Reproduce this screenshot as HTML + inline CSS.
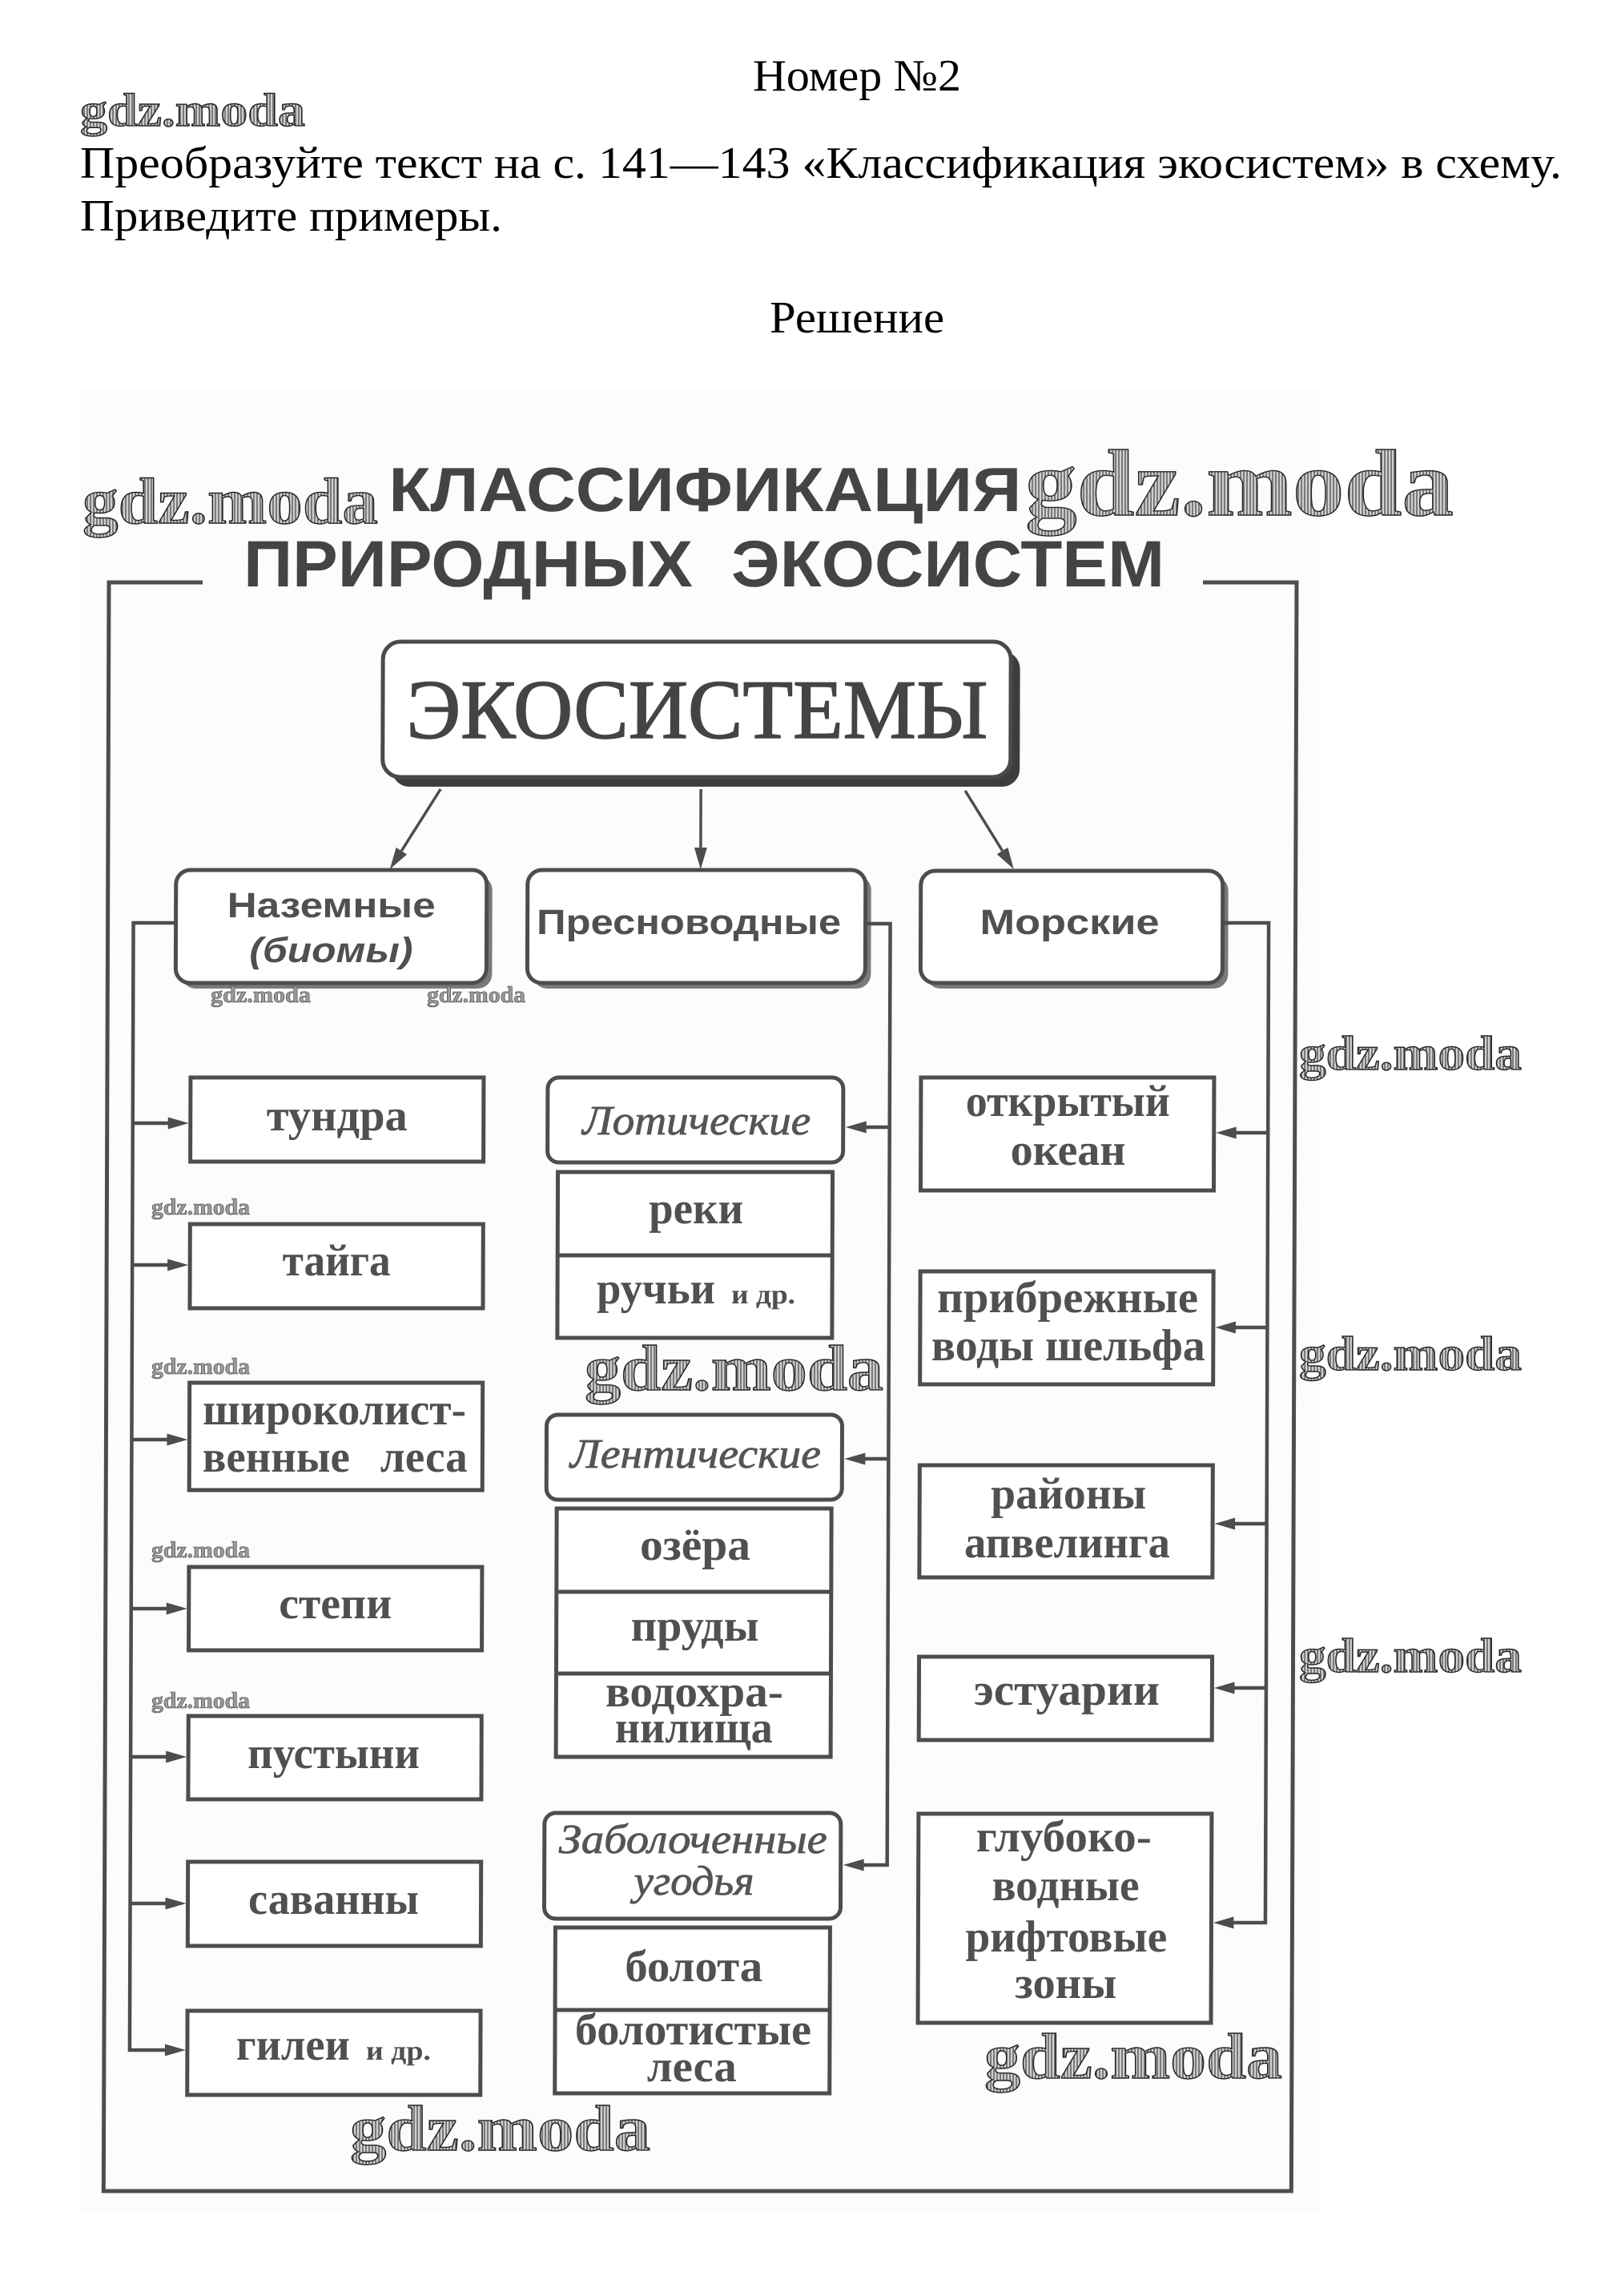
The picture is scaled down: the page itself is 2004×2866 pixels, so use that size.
<!DOCTYPE html>
<html><head><meta charset="utf-8"><style>
html,body{margin:0;padding:0;background:#fff;}
svg{display:block;}
.hd{font-family:"Liberation Serif",serif;font-size:56px;fill:#000;}
.wm{font-family:"Liberation Serif",serif;font-weight:bold;fill:url(#hatch);stroke:#262626;stroke-width:1.4;}
.wt{font-family:"Liberation Serif",serif;font-weight:bold;font-size:28px;fill:#9a9a9a;stroke:#444;stroke-width:0.6;}
.tt{font-family:"Liberation Sans",sans-serif;font-weight:bold;fill:#444;}
.l2{font-family:"Liberation Sans",sans-serif;font-weight:bold;font-size:44px;fill:#505050;}
.bx{font-family:"Liberation Serif",serif;font-weight:bold;font-size:56px;fill:#505050;}
.sm{font-family:"Liberation Serif",serif;font-weight:bold;font-size:34px;fill:#505050;}
.it{font-family:"Liberation Serif",serif;font-style:italic;font-size:52px;fill:#555;stroke:#555;stroke-width:0.8;}
.ln{fill:none;stroke:#4d4d4d;stroke-width:4.5;}
.bxr{fill:#fff;stroke:#4d4d4d;stroke-width:5;}
.ah{fill:#4d4d4d;}
</style></head><body>
<svg width="2004" height="2866" viewBox="0 0 2004 2866" xmlns="http://www.w3.org/2000/svg">
<defs>
<pattern id="hatch" width="4" height="4" patternUnits="userSpaceOnUse">
<rect width="4" height="4" fill="#cfcfcf"/><path d="M1 0V4" stroke="#555" stroke-width="1.4"/>
</pattern>
</defs>
<rect width="2004" height="2866" fill="#fff"/>
<rect x="100" y="487" width="1550" height="2273" fill="#fcfcfc"/>

<!-- header -->
<text class="hd" x="940" y="113" textLength="260" lengthAdjust="spacingAndGlyphs">Номер №2</text>
<text class="hd" x="100" y="222" textLength="1850" lengthAdjust="spacingAndGlyphs">Преобразуйте текст на с. 141—143 «Классификация экосистем» в схему.</text>
<text class="hd" x="100" y="288" textLength="527" lengthAdjust="spacingAndGlyphs">Приведите примеры.</text>
<text class="hd" x="961" y="415" textLength="218" lengthAdjust="spacingAndGlyphs">Решение</text>

<g transform="translate(2.4,0) skewX(-0.19)">
<!-- title -->
<text class="tt" x="485" y="638" font-size="78" textLength="790" lengthAdjust="spacingAndGlyphs">КЛАССИФИКАЦИЯ</text>
<text class="tt" x="304" y="732" font-size="82" textLength="561" lengthAdjust="spacingAndGlyphs">ПРИРОДНЫХ</text>
<text class="tt" x="913" y="732" font-size="82" textLength="541" lengthAdjust="spacingAndGlyphs">ЭКОСИСТЕМ</text>

<!-- frame -->
<path d="M253 727H136V2735H1619V727H1502" fill="none" stroke="#4d4d4d" stroke-width="5"/>

<!-- root box -->
<rect x="490" y="813" width="784" height="169" rx="22" fill="#3d3d3d"/>
<rect x="478.5" y="801" width="784" height="169" rx="22" fill="#fff" stroke="#4a4a4a" stroke-width="5"/>
<text x="508" y="921" font-family="Liberation Serif, serif" font-size="105" fill="#444" stroke="#444" stroke-width="1.6" textLength="726" lengthAdjust="spacingAndGlyphs">ЭКОСИСТЕМЫ</text>

<!-- arrows from root -->
<line x1="551" y1="985" x2="502.5" y2="1062" stroke="#4d4d4d" stroke-width="3.5"/>
<polygon class="ah" points="488,1085 509.3,1066.5 495.7,1057.9"/>
<line x1="876" y1="985" x2="876" y2="1060" stroke="#4d4d4d" stroke-width="3.5"/>
<polygon class="ah" points="876,1085 868,1058 884,1058"/>
<line x1="1206" y1="987" x2="1252.7" y2="1062" stroke="#4d4d4d" stroke-width="3.5"/>
<polygon class="ah" points="1267,1085 1259.5,1057.9 1245.9,1066.3"/>

<!-- level 2 boxes -->
<rect x="228" y="1093" width="388" height="141" rx="18" fill="#7a7a7a"/>
<rect x="221" y="1086" width="388" height="141" rx="18" class="bxr"/>
<text class="l2" x="285" y="1145" textLength="260" lengthAdjust="spacingAndGlyphs">Наземные</text>
<text class="l2" x="313" y="1201" font-style="italic" textLength="204" lengthAdjust="spacingAndGlyphs">(биомы)</text>

<rect x="667" y="1093" width="422" height="141" rx="18" fill="#7a7a7a"/>
<rect x="660" y="1086" width="422" height="141" rx="18" class="bxr"/>
<text class="l2" x="671.5" y="1166" textLength="380" lengthAdjust="spacingAndGlyphs">Пресноводные</text>

<rect x="1158" y="1094" width="377" height="140" rx="18" fill="#7a7a7a"/>
<rect x="1151" y="1087" width="377" height="140" rx="18" class="bxr"/>
<text class="l2" x="1225" y="1166" textLength="224" lengthAdjust="spacingAndGlyphs">Морские</text>

<!-- connectors -->
<path class="ln" d="M221 1152H168V2559H214"/>
<path class="ln" d="M1082 1153H1113V2328H1082"/>
<path class="ln" d="M1528 1152H1585.5V2400H1545"/>

<!-- left arrows -->
<path class="ln" d="M168 1402H214M168 1579H214M168 1797H214M168 2008H214M168 2193H214M168 2376H214"/>
<polygon class="ah" points="238,1402 212,1394.5 212,1409.5"/>
<polygon class="ah" points="238,1579 212,1571.5 212,1586.5"/>
<polygon class="ah" points="238,1797 212,1789.5 212,1804.5"/>
<polygon class="ah" points="238,2008 212,2000.5 212,2015.5"/>
<polygon class="ah" points="238,2193 212,2185.5 212,2200.5"/>
<polygon class="ah" points="238,2376 212,2368.5 212,2383.5"/>
<polygon class="ah" points="238,2559 212,2551.5 212,2566.5"/>

<!-- middle arrows -->
<path class="ln" d="M1113 1407H1082M1113 1821H1082"/>
<polygon class="ah" points="1058,1407 1084,1399.5 1084,1414.5"/>
<polygon class="ah" points="1058,1821 1084,1813.5 1084,1828.5"/>
<polygon class="ah" points="1058,2328 1084,2320.5 1084,2335.5"/>

<!-- right arrows -->
<path class="ln" d="M1585.5 1414H1545M1585.5 1657H1545M1585.5 1902H1545M1585.5 2107H1545"/>
<polygon class="ah" points="1520.5,1414 1546,1406.5 1546,1421.5"/>
<polygon class="ah" points="1520.5,1657 1546,1649.5 1546,1664.5"/>
<polygon class="ah" points="1520.5,1902 1546,1894.5 1546,1909.5"/>
<polygon class="ah" points="1520.5,2107 1546,2099.5 1546,2114.5"/>
<polygon class="ah" points="1520.5,2400 1546,2392.5 1546,2407.5"/>

<!-- left column boxes -->
<rect class="bxr" x="240" y="1345" width="366" height="105"/>
<text class="bx" x="335" y="1411" textLength="176" lengthAdjust="spacingAndGlyphs">тундра</text>
<rect class="bxr" x="240" y="1528" width="366" height="105"/>
<text class="bx" x="355.5" y="1592" textLength="135" lengthAdjust="spacingAndGlyphs">тайга</text>
<rect class="bxr" x="240" y="1726" width="366" height="134"/>
<text class="bx" x="256.5" y="1778" textLength="329" lengthAdjust="spacingAndGlyphs">широколист-</text>
<text class="bx" x="256.5" y="1837" textLength="184" lengthAdjust="spacingAndGlyphs">венные</text>
<text class="bx" x="478.5" y="1837" textLength="109" lengthAdjust="spacingAndGlyphs">леса</text>
<rect class="bxr" x="240" y="1956" width="366" height="104"/>
<text class="bx" x="352.5" y="2020" textLength="141" lengthAdjust="spacingAndGlyphs">степи</text>
<rect class="bxr" x="240" y="2142" width="366" height="104"/>
<text class="bx" x="314" y="2207" textLength="215" lengthAdjust="spacingAndGlyphs">пустыни</text>
<rect class="bxr" x="240" y="2324" width="366" height="105"/>
<text class="bx" x="315.5" y="2389" textLength="213" lengthAdjust="spacingAndGlyphs">саванны</text>
<rect class="bxr" x="240" y="2510" width="366" height="105"/>
<text class="bx" x="301" y="2571" textLength="142" lengthAdjust="spacingAndGlyphs">гилеи</text>
<text class="sm" x="463" y="2571" textLength="81" lengthAdjust="spacingAndGlyphs">и др.</text>

<!-- middle column -->
<rect class="bxr" x="686" y="1345" width="369" height="106" rx="14"/>
<text class="it" x="729.5" y="1416" textLength="285" lengthAdjust="spacingAndGlyphs">Лотические</text>
<rect class="bxr" x="699" y="1463" width="343" height="207"/>
<line x1="699" y1="1567" x2="1042" y2="1567" stroke="#4d4d4d" stroke-width="5"/>
<text class="bx" x="812.8" y="1527" textLength="118" lengthAdjust="spacingAndGlyphs">реки</text>
<text class="bx" x="748" y="1627" textLength="148" lengthAdjust="spacingAndGlyphs">ручьи</text>
<text class="sm" x="916" y="1627" textLength="80" lengthAdjust="spacingAndGlyphs">и др.</text>

<rect class="bxr" x="686" y="1766" width="369" height="106" rx="14"/>
<text class="it" x="715.6" y="1832" textLength="313" lengthAdjust="spacingAndGlyphs">Лентические</text>
<rect class="bxr" x="699" y="1883" width="343" height="310"/>
<line x1="699" y1="1987" x2="1042" y2="1987" stroke="#4d4d4d" stroke-width="5"/>
<line x1="699" y1="2089" x2="1042" y2="2089" stroke="#4d4d4d" stroke-width="5"/>
<text class="bx" x="803" y="1947" textLength="138" lengthAdjust="spacingAndGlyphs">озёра</text>
<text class="bx" x="792" y="2048" textLength="160" lengthAdjust="spacingAndGlyphs">пруды</text>
<text class="bx" x="760.5" y="2130" textLength="222" lengthAdjust="spacingAndGlyphs">водохра-</text>
<text class="bx" x="772.6" y="2175" textLength="197" lengthAdjust="spacingAndGlyphs">нилища</text>

<rect class="bxr" x="685" y="2263" width="370" height="132" rx="14"/>
<text class="it" x="703" y="2313" textLength="335" lengthAdjust="spacingAndGlyphs">Заболоченные</text>
<text class="it" x="797" y="2365" textLength="150" lengthAdjust="spacingAndGlyphs">угодья</text>
<rect class="bxr" x="699" y="2406" width="343" height="207"/>
<line x1="699" y1="2509" x2="1042" y2="2509" stroke="#4d4d4d" stroke-width="5"/>
<text class="bx" x="786" y="2473" textLength="172" lengthAdjust="spacingAndGlyphs">болота</text>
<text class="bx" x="724" y="2552" textLength="295" lengthAdjust="spacingAndGlyphs">болотистые</text>
<text class="bx" x="814" y="2598" textLength="112" lengthAdjust="spacingAndGlyphs">леса</text>

<!-- right column -->
<rect class="bxr" x="1152" y="1345" width="366" height="141"/>
<text class="bx" x="1208" y="1393" textLength="255" lengthAdjust="spacingAndGlyphs">открытый</text>
<text class="bx" x="1264" y="1454" textLength="144" lengthAdjust="spacingAndGlyphs">океан</text>
<rect class="bxr" x="1152" y="1587" width="366" height="141"/>
<text class="bx" x="1173" y="1638" textLength="326" lengthAdjust="spacingAndGlyphs">прибрежные</text>
<text class="bx" x="1166" y="1698" textLength="342" lengthAdjust="spacingAndGlyphs">воды шельфа</text>
<rect class="bxr" x="1152" y="1829" width="366" height="140"/>
<text class="bx" x="1241" y="1883" textLength="194" lengthAdjust="spacingAndGlyphs">районы</text>
<text class="bx" x="1208" y="1944" textLength="257" lengthAdjust="spacingAndGlyphs">апвелинга</text>
<rect class="bxr" x="1152" y="2068" width="366" height="104"/>
<text class="bx" x="1220.6" y="2128" textLength="232" lengthAdjust="spacingAndGlyphs">эстуарии</text>
<rect class="bxr" x="1152" y="2264" width="366" height="261"/>
<text class="bx" x="1224" y="2311" textLength="219" lengthAdjust="spacingAndGlyphs">глубоко-</text>
<text class="bx" x="1244" y="2372" textLength="184" lengthAdjust="spacingAndGlyphs">водные</text>
<text class="bx" x="1211" y="2436" textLength="252" lengthAdjust="spacingAndGlyphs">рифтовые</text>
<text class="bx" x="1273" y="2494" textLength="127" lengthAdjust="spacingAndGlyphs">зоны</text>
</g>

<!-- watermarks -->
<text class="wm" x="100" y="157" font-size="58" textLength="281" lengthAdjust="spacingAndGlyphs">gdz.moda</text>
<text class="wm" x="103" y="653" font-size="82" textLength="369" lengthAdjust="spacingAndGlyphs">gdz.moda</text>
<text class="wm" x="1280" y="643" font-size="118" textLength="535" lengthAdjust="spacingAndGlyphs">gdz.moda</text>
<text class="wm" x="730" y="1735" font-size="80" textLength="373" lengthAdjust="spacingAndGlyphs">gdz.moda</text>
<text class="wm" x="1622" y="1335" font-size="60" textLength="278" lengthAdjust="spacingAndGlyphs">gdz.moda</text>
<text class="wm" x="1622" y="1710" font-size="60" textLength="278" lengthAdjust="spacingAndGlyphs">gdz.moda</text>
<text class="wm" x="1622" y="2087" font-size="60" textLength="278" lengthAdjust="spacingAndGlyphs">gdz.moda</text>
<text class="wm" x="1229" y="2594" font-size="80" textLength="372" lengthAdjust="spacingAndGlyphs">gdz.moda</text>
<text class="wm" x="437" y="2684" font-size="80" textLength="375" lengthAdjust="spacingAndGlyphs">gdz.moda</text>
<text class="wt" x="263" y="1251" textLength="125" lengthAdjust="spacingAndGlyphs">gdz.moda</text>
<text class="wt" x="533" y="1251" textLength="123" lengthAdjust="spacingAndGlyphs">gdz.moda</text>
<text class="wt" x="189" y="1516" textLength="123" lengthAdjust="spacingAndGlyphs">gdz.moda</text>
<text class="wt" x="189" y="1715" textLength="123" lengthAdjust="spacingAndGlyphs">gdz.moda</text>
<text class="wt" x="189" y="1944" textLength="123" lengthAdjust="spacingAndGlyphs">gdz.moda</text>
<text class="wt" x="189" y="2132" textLength="123" lengthAdjust="spacingAndGlyphs">gdz.moda</text>
</svg>
</body></html>
